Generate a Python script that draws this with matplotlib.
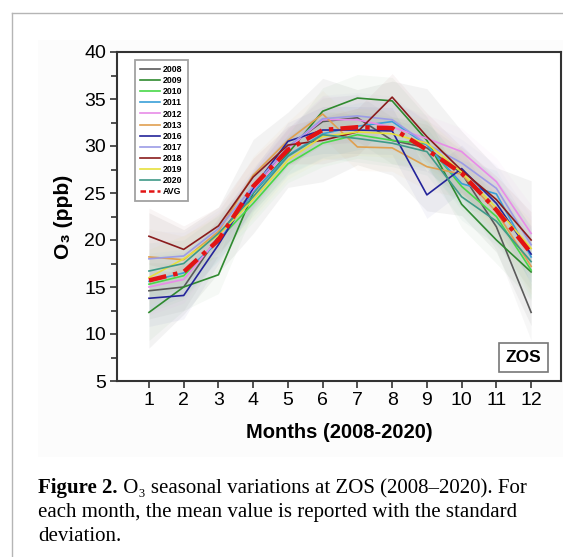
import matplotlib
matplotlib.use("Agg")
import matplotlib.pyplot as plt
from matplotlib.lines import Line2D
from matplotlib.patches import Rectangle
import numpy as np

months = [1, 2, 3, 4, 5, 6, 7, 8, 9, 10, 11, 12]
years = ["2008", "2009", "2010", "2011", "2012", "2013", "2016", "2017", "2018", "2019", "2020"]

o3_2008 = [14.6, 15.0, 20.4, 25.3, 29.9, 32.6, 33.0, 30.6, 29.8, 27.1, 21.4, 12.3]
o3_2009 = [12.3, 15.0, 16.3, 25.0, 29.2, 33.7, 35.1, 34.8, 30.6, 23.8, 20.0, 16.6]
o3_2010 = [15.3, 16.2, 20.0, 23.9, 28.1, 30.3, 31.2, 30.6, 30.2, 25.7, 22.5, 16.8]
o3_2011 = [15.6, 16.5, 19.8, 25.1, 29.0, 31.3, 32.1, 32.6, 30.1, 26.0, 24.9, 18.2]
o3_2012 = [15.0, 15.8, 20.2, 25.3, 29.7, 32.8, 32.8, 32.0, 30.8, 29.4, 26.2, 20.7]
o3_2013 = [18.2, 17.9, 20.9, 26.9, 30.6, 33.4, 29.9, 29.8, 27.8, 27.0, 23.0, 17.2]
o3_2016 = [13.8, 14.1, 19.5, 25.5, 30.5, 31.7, 31.7, 31.6, 24.8, 27.6, 23.9, 18.5]
o3_2017 = [18.0, 18.3, 21.2, 25.7, 29.9, 32.9, 33.2, 32.8, 30.2, 28.2, 25.5, 19.5]
o3_2018 = [20.4, 19.0, 21.5, 26.7, 30.1, 30.6, 31.5, 35.2, 31.0, 27.4, 24.3, 20.0]
o3_2019 = [16.0, 18.0, 20.5, 24.3, 28.5, 31.0, 31.5, 31.3, 30.3, 27.2, 23.4, 19.1]
o3_2020 = [16.7, 17.5, 20.7, 24.6, 28.9, 31.2, 30.8, 30.3, 29.4, 24.6, 22.0, 17.7]
o3_avg = [15.7, 16.6, 20.0, 25.7, 29.6, 31.7, 32.0, 31.9, 29.6, 27.1, 23.2, 18.6]

# spread of the shaded bands (ppb)
avg_std = [7.2, 4.5, 3.5, 5.0, 4.0, 5.5, 4.0, 5.0, 6.5, 4.5, 4.5, 7.7]
year_std = [3.0, 2.5, 2.0, 2.0, 2.0, 2.5, 2.5, 2.5, 2.5, 2.5, 2.5, 3.0]

colors = ["#5a5a5a", "#2f8a2f", "#48d848", "#3a9fd8", "#e88ce8", "#e0a050",
          "#24249a", "#9c9ce6", "#8a1c1c", "#e6e03c", "#3f9a88"]
series = [o3_2008, o3_2009, o3_2010, o3_2011, o3_2012, o3_2013,
          o3_2016, o3_2017, o3_2018, o3_2019, o3_2020]

sans = ["Liberation Sans", "DejaVu Sans"]
serif = ["Liberation Serif", "DejaVu Serif"]

fig = plt.figure(figsize=(5.63, 5.57), dpi=100)
fig.patch.set_facecolor("white")

# faint background of the chart image and page border
fig.add_artist(Rectangle((38 / 563, 1 - 457 / 557), 525 / 563, 417 / 557,
                         transform=fig.transFigure, facecolor="#fcfcfc",
                         edgecolor="none", zorder=0))
fig.add_artist(Line2D([12 / 563, 12 / 563], [0, 1 - 13 / 557], transform=fig.transFigure,
                      color="#b5b5b5", lw=1.0))
fig.add_artist(Line2D([12 / 563, 1], [1 - 13 / 557, 1 - 13 / 557], transform=fig.transFigure,
                      color="#b5b5b5", lw=1.0))

ax = fig.add_axes([117 / 563, 1 - 381 / 557, 444 / 563, 329 / 557])
ax.set_facecolor("white")

m = np.array(months)
avg = np.array(o3_avg)
ax.fill_between(m, avg - np.array(avg_std), avg + np.array(avg_std),
                color="#d0d0d0", alpha=0.25, lw=0, zorder=1)
for vals, c in zip(series, colors):
    v = np.array(vals)
    ax.fill_between(m, v - np.array(year_std), v + np.array(year_std),
                    color=c, alpha=0.045, lw=0, zorder=1)

for vals, c, y in zip(series, colors, years):
    ax.plot(months, vals, color=c, lw=1.2, label=y, zorder=3)
ax.plot(months, o3_avg, color="#e21414", lw=3.2, dashes=(4, 1.6, 1, 1.6),
        label="AVG", zorder=4)

ax.set_xlim(0.08, 12.86)
ax.set_ylim(5, 40)
ax.set_xticks(months)
ax.set_yticks(range(5, 41, 5))
ax.set_yticks(np.arange(7.5, 40, 5), minor=True)
ax.tick_params(axis="both", which="major", direction="out", length=5, width=1.2,
               labelsize=14, color="#333333", pad=3)
ax.tick_params(axis="y", which="minor", direction="out", length=4, width=1.2, color="#333333")
for lab in ax.get_xticklabels() + ax.get_yticklabels():
    lab.set_family(sans)
for sp in ax.spines.values():
    sp.set_linewidth(1.5)
    sp.set_color("#333333")

ax.set_xlabel("Months (2008-2020)", family=sans, fontsize=14.5, fontweight="bold", labelpad=10)
ax.set_ylabel("O\u2083 (ppb)", family=sans, fontsize=15, fontweight="bold", labelpad=8)

handles, labels = ax.get_legend_handles_labels()
handles[-1] = Line2D([], [], color="#e21414", lw=1.8, dashes=(2.2, 1.2))
leg = ax.legend(handles, labels, loc="upper left", bbox_to_anchor=(0.0405, 0.976),
                prop={"family": sans, "weight": "bold", "size": 6.3},
                frameon=True, fancybox=False, edgecolor="#8a8a8a",
                handlelength=2.3, handletextpad=0.3, labelspacing=0.24,
                borderpad=0.6, borderaxespad=0)
leg.get_frame().set_linewidth(1.3)

ax.text(0.9155, 0.0714, "ZOS", transform=ax.transAxes, ha="center", va="center",
        family=sans, fontsize=12.5, fontweight="bold",
        bbox=dict(boxstyle="square,pad=0.38", facecolor="white", edgecolor="#777777", lw=1.2))

# caption
cap_size = 15
x0 = 38 / 563
t1 = fig.text(x0, 1 - 493 / 557, "Figure 2.", family=serif, fontsize=cap_size,
              fontweight="bold", va="baseline")
fig.canvas.draw()
bb = t1.get_window_extent(fig.canvas.get_renderer())
fig.text(bb.x1 / fig.bbox.width, 1 - 493 / 557,
         " O\u2083 seasonal variations at ZOS (2008\u20132020). For",
         family=serif, fontsize=cap_size, va="baseline")
fig.text(x0, 1 - 517 / 557, "each month, the mean value is reported with the standard",
         family=serif, fontsize=cap_size, va="baseline")
fig.text(x0, 1 - 541 / 557, "deviation.", family=serif, fontsize=cap_size, va="baseline")

fig.savefig("out.png", dpi=100, facecolor="white")
